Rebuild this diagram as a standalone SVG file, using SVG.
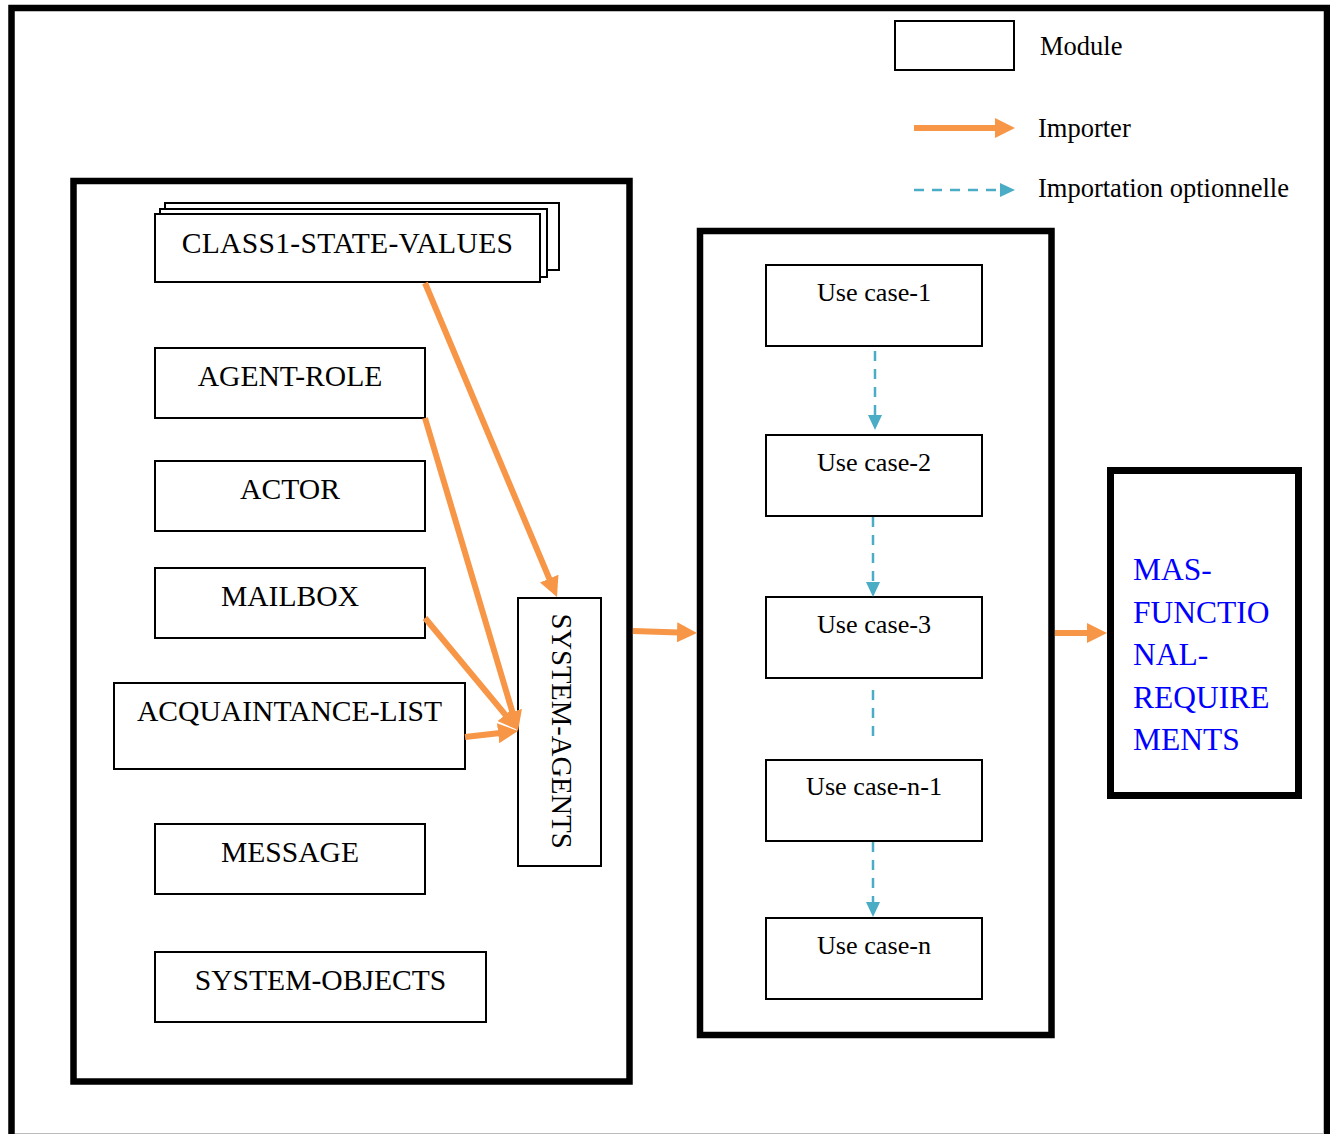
<svg xmlns="http://www.w3.org/2000/svg" width="1330" height="1134" viewBox="0 0 1330 1134">
  <style>
    .frame { fill: none; stroke: #000; }
    .mod { fill: #fff; stroke: #000; stroke-width: 2; }
    .lbl { font-family: "Liberation Serif", "Times New Roman", serif; fill: #000; }
    .caps { font-size: 29.6px; text-anchor: middle; }
    .uc { font-size: 26.2px; text-anchor: middle; }
    .leg { font-size: 26.5px; }
    .blue { font-family: "Liberation Serif", "Times New Roman", serif; font-size: 31.5px; fill: #0000ff; }
    .imp { fill: none; stroke: #f79646; stroke-width: 6; marker-end: url(#headOrange); }
    .opt { fill: none; stroke: #4bacc6; stroke-width: 2.5; stroke-dasharray: 10 8; }
    .optA { marker-end: url(#headTeal); }
  </style>
  <defs>
    <marker id="headOrange" markerUnits="userSpaceOnUse" markerWidth="20" markerHeight="20" refX="2" refY="10" orient="auto">
      <path d="M0,0 L20,10 L0,20 Z" fill="#f79646"/>
    </marker>
    <marker id="headTeal" markerUnits="userSpaceOnUse" markerWidth="15" markerHeight="14" refX="1" refY="7" orient="auto">
      <path d="M0,0 L15,7 L0,14 Z" fill="#4bacc6"/>
    </marker>
  </defs>

  <rect width="1330" height="1134" fill="#fff"/>

  <!-- outer page frame (open at the bottom) -->
  <path class="frame" d="M11.5,1134 V8 H1327 V1134" stroke-width="6.5"/>
  <line x1="15" y1="1133.5" x2="1324" y2="1133.5" stroke="#bbb" stroke-width="1"/>

  <!-- legend -->
  <g id="legend">
    <rect x="895" y="21" width="119" height="49" class="mod"/>
    <text class="lbl leg" x="1040" y="55">Module</text>
    <line x1="914" y1="128" x2="997" y2="128" class="imp"/>
    <text class="lbl leg" x="1038" y="137">Importer</text>
    <line x1="914" y1="190" x2="1001" y2="190" class="opt optA"/>
    <text class="lbl leg" x="1038" y="197">Importation optionnelle</text>
  </g>

  <!-- containers -->
  <g id="agents-package">
    <rect x="73.5" y="181" width="556" height="900.5" class="frame" stroke-width="6.5"/>
  </g>
  <g id="usecases-package">
    <rect x="700" y="231" width="351.5" height="804" class="frame" stroke-width="6.5"/>
  </g>

  <!-- modules of the agent package -->
  <g id="class1-state-values">
    <rect x="165" y="203" width="394" height="67" class="mod"/>
    <rect x="160" y="209" width="387" height="68" class="mod"/>
    <rect x="155" y="214" width="385" height="68" class="mod"/>
    <text class="lbl caps" x="347.5" y="253" font-size="30.5" letter-spacing="0.3">CLASS1-STATE-VALUES</text>
  </g>
  <g id="agent-role">
    <rect x="155" y="348" width="270" height="70" class="mod"/>
    <text class="lbl caps" x="290" y="386">AGENT-ROLE</text>
  </g>
  <g id="actor">
    <rect x="155" y="461" width="270" height="70" class="mod"/>
    <text class="lbl caps" x="290" y="499">ACTOR</text>
  </g>
  <g id="mailbox">
    <rect x="155" y="568" width="270" height="70" class="mod"/>
    <text class="lbl caps" x="290" y="606">MAILBOX</text>
  </g>
  <g id="acquaintance-list">
    <rect x="114" y="683" width="351" height="86" class="mod"/>
    <text class="lbl caps" x="289.5" y="721">ACQUAINTANCE-LIST</text>
  </g>
  <g id="message">
    <rect x="155" y="824" width="270" height="70" class="mod"/>
    <text class="lbl caps" x="290" y="862">MESSAGE</text>
  </g>
  <g id="system-objects">
    <rect x="155" y="952" width="331" height="70" class="mod"/>
    <text class="lbl caps" x="320.5" y="990">SYSTEM-OBJECTS</text>
  </g>
  <g id="system-agents">
    <rect x="518" y="598" width="83" height="268" class="mod"/>
    <text class="lbl" font-size="28.6" text-anchor="middle" transform="translate(552,731) rotate(90)">SYSTEM-AGENTS</text>
  </g>

  <!-- use cases -->
  <g id="use-case-1">
    <rect x="766" y="265" width="216" height="81" class="mod"/>
    <text class="lbl uc" x="874" y="301">Use case-1</text>
  </g>
  <g id="use-case-2">
    <rect x="766" y="435" width="216" height="81" class="mod"/>
    <text class="lbl uc" x="874" y="471">Use case-2</text>
  </g>
  <g id="use-case-3">
    <rect x="766" y="597" width="216" height="81" class="mod"/>
    <text class="lbl uc" x="874" y="633">Use case-3</text>
  </g>
  <g id="use-case-n-1">
    <rect x="766" y="760" width="216" height="81" class="mod"/>
    <text class="lbl uc" x="874" y="795">Use case-n-1</text>
  </g>
  <g id="use-case-n">
    <rect x="766" y="918" width="216" height="81" class="mod"/>
    <text class="lbl uc" x="874" y="954">Use case-n</text>
  </g>

  <!-- functional requirements -->
  <g id="mas-functional-requirements">
    <rect x="1110.5" y="470.5" width="188" height="325" fill="#fff" stroke="#000" stroke-width="7"/>
    <text class="blue" x="1133" y="580">MAS-</text>
    <text class="blue" x="1133" y="622.5">FUNCTIO</text>
    <text class="blue" x="1133" y="665">NAL-</text>
    <text class="blue" x="1133" y="707.5">REQUIRE</text>
    <text class="blue" x="1133" y="750">MENTS</text>
  </g>

  <!-- connectors -->
  <g id="connectors">
    <line x1="425" y1="283" x2="550" y2="580.4" class="imp"/>
    <line x1="425" y1="418" x2="512.9" y2="713.7" class="imp"/>
    <line x1="425" y1="618" x2="506.5" y2="716.2" class="imp"/>
    <line x1="465" y1="737" x2="500.1" y2="733" class="imp"/>
    <line x1="633" y1="631" x2="679" y2="632.4" class="imp"/>
    <line x1="1055" y1="633" x2="1089" y2="633" class="imp"/>

    <line x1="875" y1="351" x2="875" y2="416" class="opt optA"/>
    <line x1="873" y1="517" x2="873" y2="583" class="opt optA"/>
    <line x1="873" y1="690" x2="873" y2="738" class="opt"/>
    <line x1="873" y1="842" x2="873" y2="903" class="opt optA"/>
  </g>
</svg>
